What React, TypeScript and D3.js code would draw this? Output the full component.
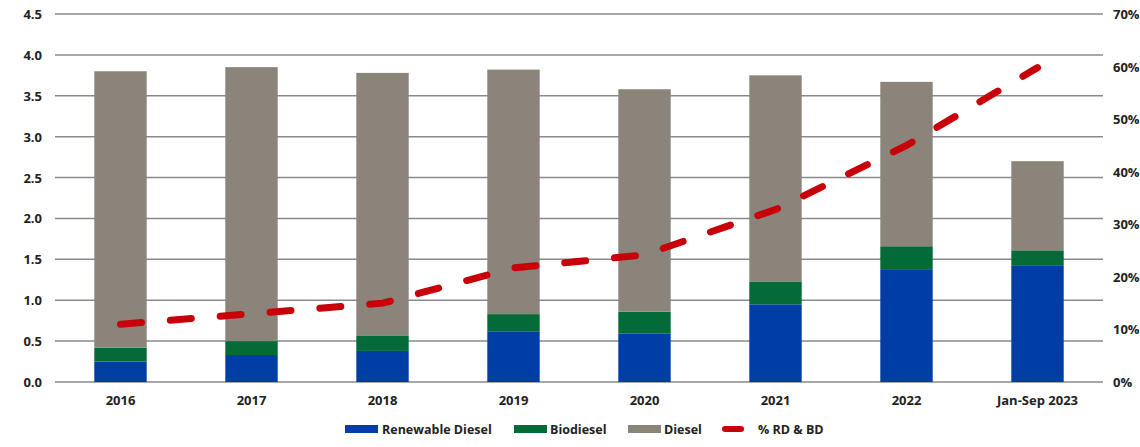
import React from "react";
import * as d3 from "d3";

const categories = ["2016", "2017", "2018", "2019", "2020", "2021", "2022", "Jan-Sep 2023"];
const renewableDiesel = [0.25, 0.33, 0.38, 0.62, 0.59, 0.95, 1.38, 1.42];
const biodiesel = [0.17, 0.17, 0.19, 0.21, 0.27, 0.28, 0.28, 0.19];
const diesel = [3.38, 3.35, 3.21, 2.99, 2.72, 2.52, 2.01, 1.09];
const pctRdBd = [0.11, 0.13, 0.15, 0.217, 0.242, 0.328, 0.45, 0.598];
const leftTicks = [0, 0.5, 1.0, 1.5, 2.0, 2.5, 3.0, 3.5, 4.0, 4.5];
const rightTicks = [0, 0.1, 0.2, 0.3, 0.4, 0.5, 0.6, 0.7];

const seriesNames = ["Renewable Diesel", "Biodiesel", "Diesel"];
const colors = ["#003DA5", "#046A38", "#8B847A"];
const lineColor = "#C8000A";
const FONT = "'Open Sans', 'DejaVu Sans', sans-serif";

export default function App() {
  const W = 1140, H = 447;
  const left = 55, right = 1103, top = 14, bottom = 382;
  const x = d3.scaleBand<string>().domain(categories).range([left, right]).paddingInner(0.6).paddingOuter(0.3);
  const y = d3.scaleLinear().domain([0, 4.5]).range([bottom, top]);
  const y2 = d3.scaleLinear().domain([0, 0.7]).range([bottom, top]);

  const rows = categories.map((c, i) => ({ cat: c, rd: renewableDiesel[i], bd: biodiesel[i], d: diesel[i] }));
  const stack = d3.stack<any>().keys(["rd", "bd", "d"])(rows);

  const line = d3.line<number>()
    .x((_, i) => (x(categories[i]) as number) + x.bandwidth() / 2)
    .y((v) => y2(v));

  const legendItems = [
    { name: seriesNames[0], sx: 345, tx: 382, type: "rect", color: colors[0] },
    { name: seriesNames[1], sx: 514, tx: 550, type: "rect", color: colors[1] },
    { name: seriesNames[2], sx: 628, tx: 664, type: "rect", color: colors[2] },
    { name: "% RD & BD", sx: 723, tx: 758, type: "line", color: lineColor },
  ];

  return (
    <svg width={W} height={H} style={{ position: "absolute", left: 0, top: 0, background: "#fff" }} fontFamily={FONT}>
      {leftTicks.map((t) => (
        <line key={"g" + t} x1={left} x2={right} y1={y(t)} y2={y(t)} stroke="#8a8a8a" strokeWidth={1.5} />
      ))}
      {leftTicks.map((t) => (
        <text key={"l" + t} x={42} y={y(t)} textAnchor="end" dominantBaseline="central" fontSize={13} fontWeight={700} fill="#222">
          {t.toFixed(1)}
        </text>
      ))}
      {rightTicks.map((t) => (
        <text key={"r" + t} x={1113} y={y2(t)} textAnchor="start" dominantBaseline="central" fontSize={13} fontWeight={700} fill="#222">
          {Math.round(t * 100) + "%"}
        </text>
      ))}
      {stack.map((s, si) => (
        <g key={si} fill={colors[si]}>
          {s.map((d, i) => (
            <rect key={i} x={x(categories[i])} width={x.bandwidth()} y={y(d[1])} height={y(d[0]) - y(d[1])} />
          ))}
        </g>
      ))}
      {categories.map((c) => (
        <text key={c} x={(x(c) as number) + x.bandwidth() / 2} y={405} textAnchor="middle" fontSize={13} fontWeight={700} fill="#222">
          {c}
        </text>
      ))}
      <path d={line(pctRdBd) || ""} fill="none" stroke={lineColor} strokeWidth={7} strokeLinecap="round" strokeDasharray="21 29" />
      {legendItems.map((it) =>
        <g key={it.name}>
          {it.type === "rect" ? (
            <rect x={it.sx} y={425} width={33} height={8} fill={it.color} />
          ) : (
            <line x1={it.sx + 2} x2={it.sx + 18} y1={429} y2={429} stroke={it.color} strokeWidth={6} strokeLinecap="round" />
          )}
          <text x={it.tx} y={429} dominantBaseline="central" fontSize={12.5} fontWeight={700} fill="#222">{it.name}</text>
        </g>
      )}
    </svg>
  );
}
